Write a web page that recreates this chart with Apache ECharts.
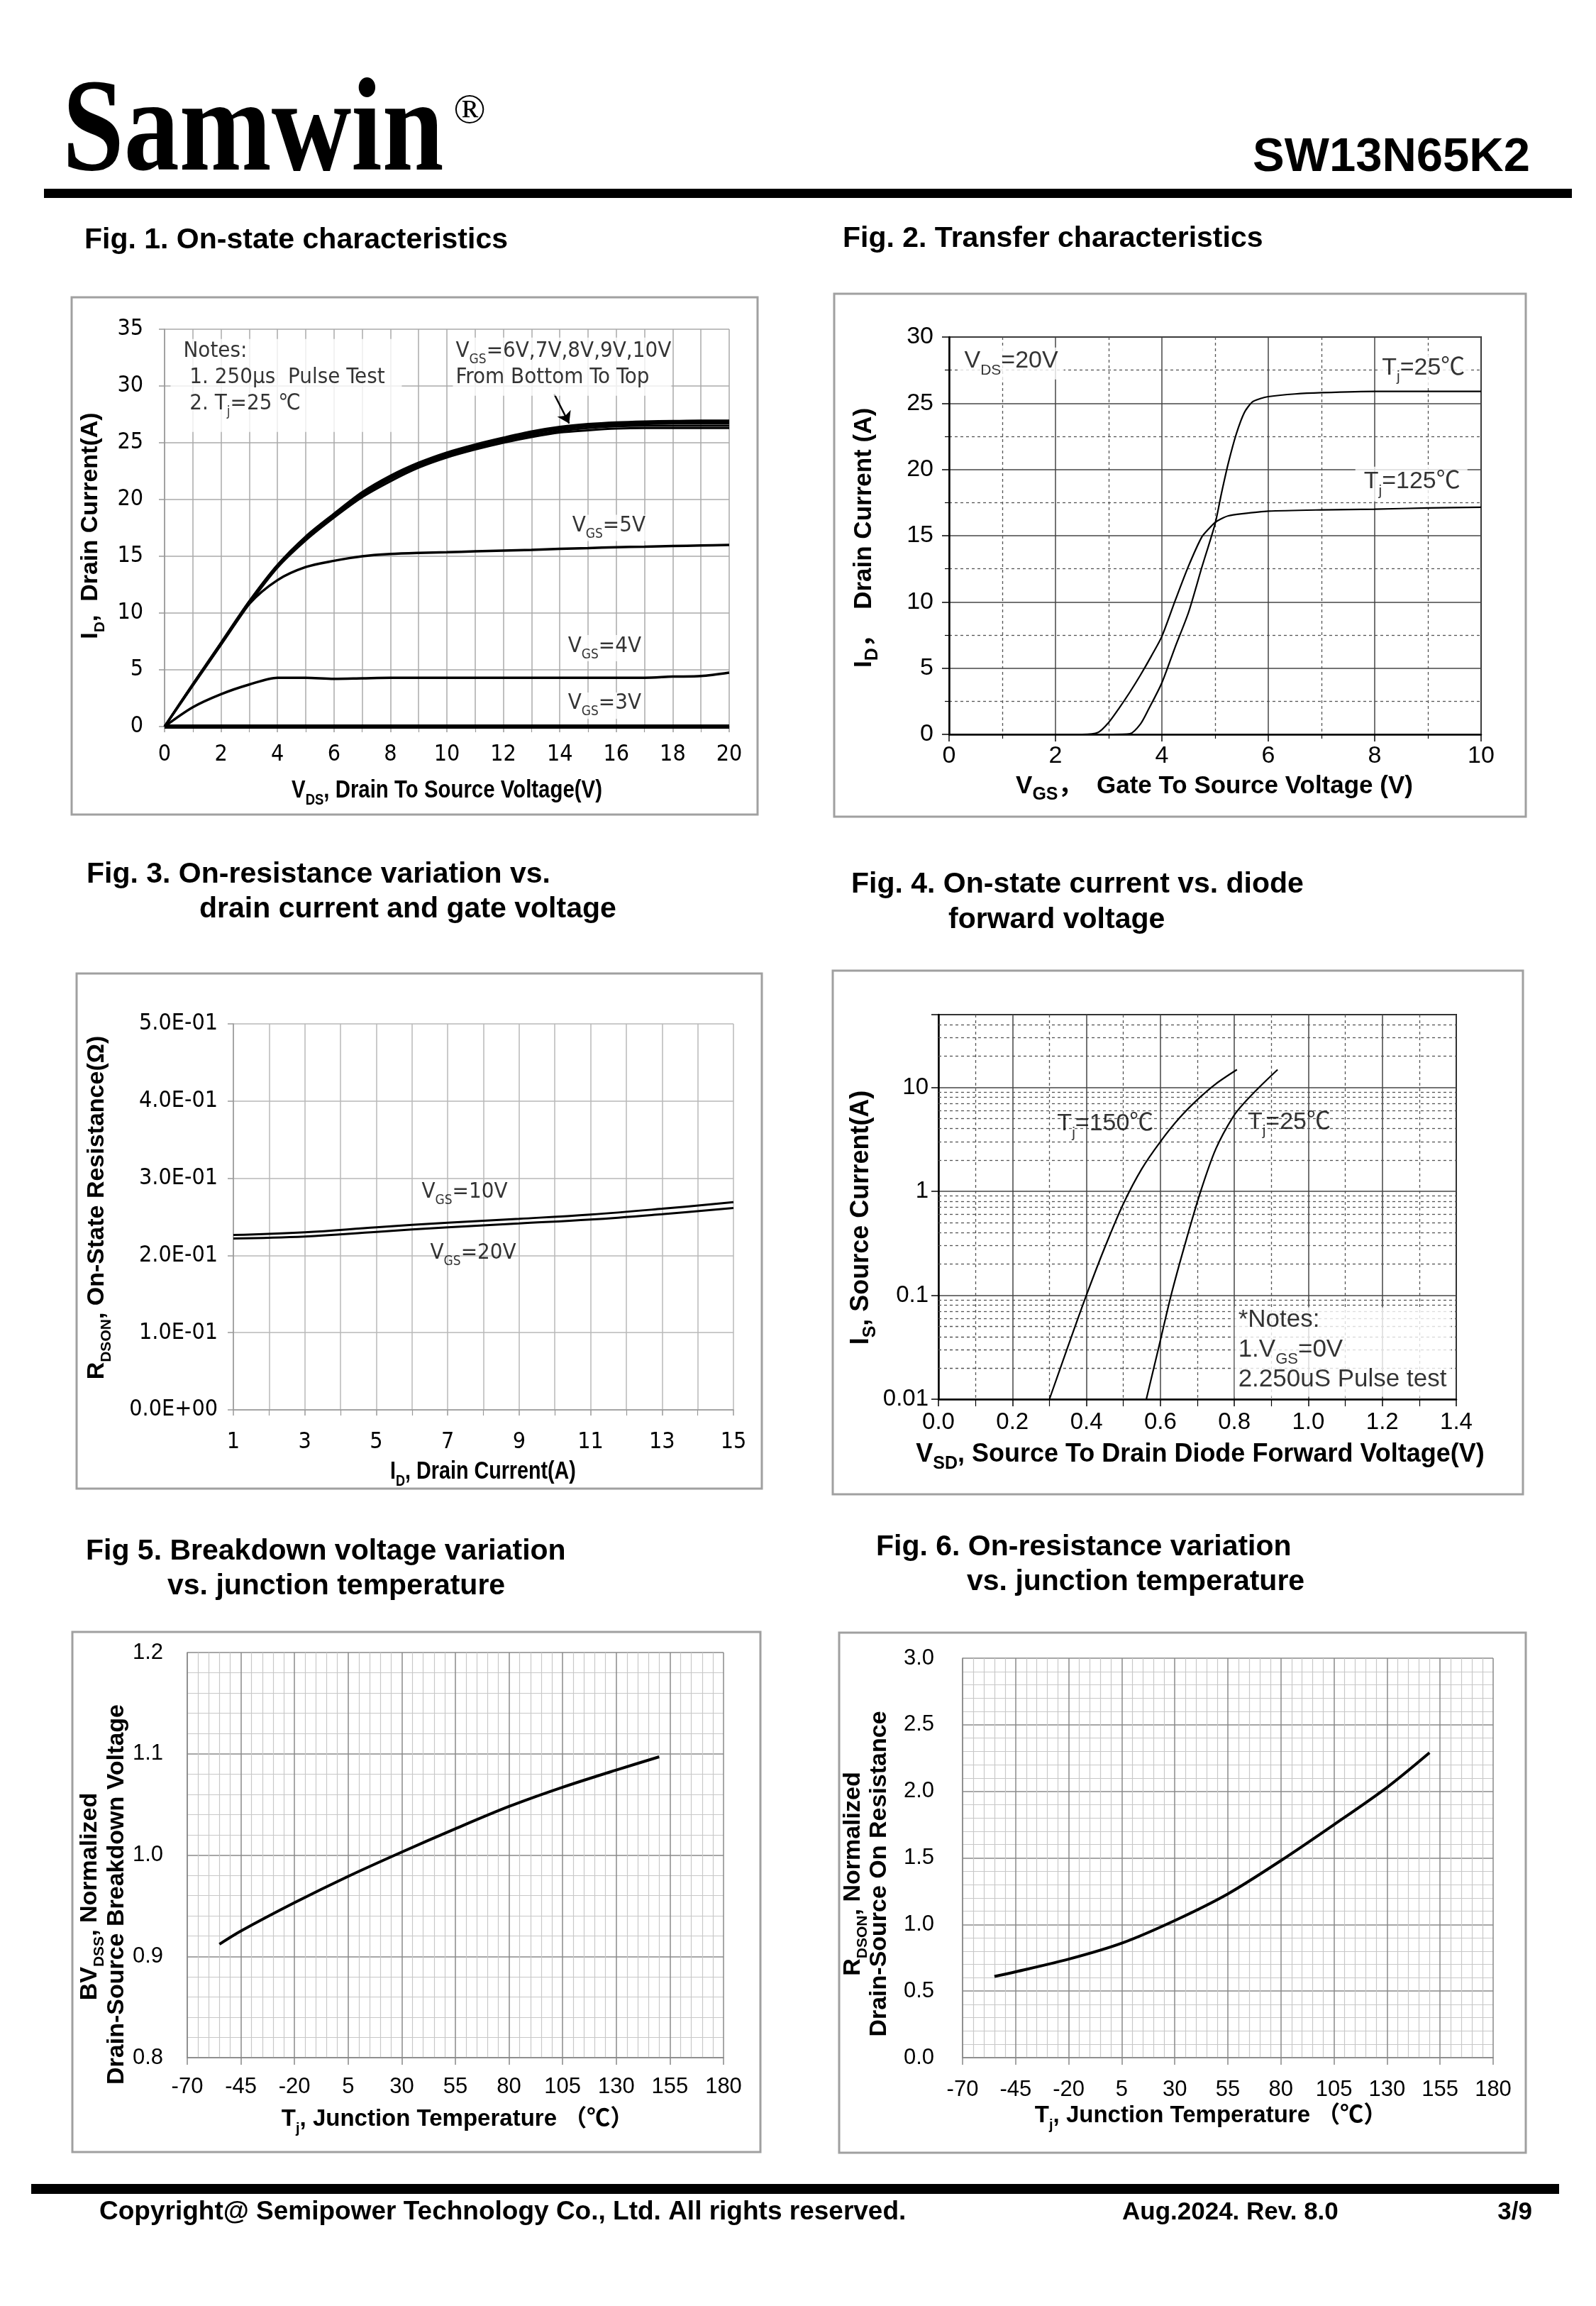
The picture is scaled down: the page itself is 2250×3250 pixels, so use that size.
<!DOCTYPE html>
<html><head><meta charset="utf-8">
<script src="https://cdn.jsdelivr.net/npm/echarts@6.0.0/dist/echarts.min.js"></script>
<style>html,body{margin:0;padding:0;background:#fff}#c{width:2250px;height:3250px}</style>
</head><body><div id="c"></div>
<script>
// ---------------- DATA ----------------
// Fig.1 On-state characteristics (VDS in V, ID in A)
const fig1Vds = [0,1,2,3,4,5,6,7,8,9,10,11,12,13,14,15,16,17,18,19,20];
const fig1Vgs3 = [0,0,0,0,0,0,0,0,0,0,0,0,0,0,0,0,0,0,0,0,0];
const fig1Vgs4 = [0,1.7,2.85,3.7,4.3,4.3,4.2,4.25,4.3,4.3,4.3,4.3,4.3,4.3,4.3,4.3,4.3,4.3,4.4,4.45,4.75];
const fig1Vgs5 = [0,3.7,7.3,10.8,12.9,14.05,14.6,15.0,15.2,15.3,15.36,15.43,15.5,15.57,15.65,15.72,15.8,15.85,15.9,15.95,16.0];
const fig1Vgs6 = [0,3.6,7.2,10.8,14.0,16.4,18.4,20.2,21.6,22.8,23.7,24.4,25.0,25.5,25.9,26.1,26.25,26.3,26.3,26.3,26.3];
const fig1Vgs7 = [0,3.65,7.25,10.9,14.1,16.5,18.5,20.35,21.8,22.95,23.85,24.55,25.15,25.65,26.05,26.3,26.45,26.5,26.5,26.5,26.5];
const fig1Vgs8 = [0,3.7,7.3,10.95,14.15,16.6,18.6,20.45,21.9,23.05,23.95,24.65,25.25,25.8,26.2,26.45,26.6,26.65,26.7,26.7,26.7];
const fig1Vgs9 = [0,3.72,7.35,11.0,14.2,16.7,18.7,20.55,22.0,23.15,24.05,24.75,25.35,25.9,26.3,26.55,26.7,26.78,26.82,26.85,26.85];
const fig1Vgs10 = [0,3.75,7.4,11.05,14.25,16.75,18.75,20.65,22.1,23.25,24.15,24.85,25.45,26.0,26.4,26.65,26.8,26.88,26.92,26.95,26.95];

// Fig.2 Transfer characteristics (VGS in V, ID in A)
const fig2Tj25Vgs = [0,3.0,3.4,3.6,3.75,4.0,4.25,4.5,4.75,5.0,5.12,5.25,5.4,5.55,5.7,5.85,6.0,6.5,7,8,9,10];
const fig2Tj25Id  = [0,0,0.05,0.8,1.9,3.9,6.6,9.2,12.6,15.9,18.2,20.5,22.7,24.3,25.1,25.35,25.5,25.7,25.8,25.9,25.9,25.9];
const fig2Tj125Vgs = [0,2.5,2.8,3.0,3.2,3.4,3.6,3.8,4.0,4.25,4.5,4.75,4.9,5.0,5.1,5.25,5.5,6,7,8,9,10];
const fig2Tj125Id  = [0,0,0.15,0.9,2.0,3.2,4.5,5.9,7.4,10.1,12.7,14.9,15.6,16.0,16.25,16.5,16.65,16.85,16.95,17.0,17.1,17.15];

// Fig.3 On-resistance vs drain current (ID in A, RDSON in ohm)
const fig3Id = [1,3,5,7,9,11,13,15];
const fig3Vgs10 = [0.2265,0.230,0.2365,0.2425,0.2475,0.253,0.2605,0.269];
const fig3Vgs20 = [0.222,0.2245,0.2305,0.2365,0.2415,0.2465,0.2535,0.2615];

// Fig.4 Diode forward characteristics (VSD in V, IS in A)
const fig4Tj150Vsd = [0.300,0.350,0.400,0.450,0.500,0.550,0.600,0.650,0.700,0.750,0.807];
const fig4Tj150Is  = [0.010,0.032,0.100,0.29,0.76,1.65,3.0,5.0,7.6,10.8,14.8];
const fig4Tj25Vsd = [0.562,0.596,0.629,0.667,0.709,0.750,0.798,0.830,0.867,0.917];
const fig4Tj25Is  = [0.010,0.032,0.100,0.313,1.00,2.56,5.3,7.3,10.0,14.8];

// Fig.5 Breakdown voltage vs Tj
const fig5Tj = [-55,-45,-20,5,30,55,80,105,130,150];
const fig5Bv = [0.912,0.925,0.953,0.979,1.003,1.026,1.048,1.067,1.084,1.097];

// Fig.6 On-resistance vs Tj
const fig6Tj = [-55,-45,-20,5,30,55,80,105,130,150];
const fig6Rds = [0.61,0.645,0.74,0.86,1.03,1.23,1.48,1.75,2.03,2.29];

// ---------------- STYLE HELPERS ----------------
const SANS = '"Liberation Sans", Arial, "Noto Sans CJK SC", sans-serif';
const NARROW = '"Liberation Sans Narrow", "Arial Narrow", "DejaVu Sans Condensed", "Noto Sans CJK SC", sans-serif';
const SERIF = '"Liberation Serif", "Times New Roman", serif';

function mkRich(S, fam, wt, scale) {
  scale = scale || 0.62;
  const L = Math.round(S * 1.2);
  const m = Math.round(S * scale);
  const d = 0.17 * S;
  return {
    n: {fontSize: S, fontFamily: fam, fontWeight: wt, color: '#000', lineHeight: L, verticalAlign: 'top'},
    s: {fontSize: m, fontFamily: fam, fontWeight: wt, color: '#000', lineHeight: Math.max(2, L - 0.7 * (S - m) - 2 * d), verticalAlign: 'bottom'},
    m: {fontSize: m, fontFamily: fam, fontWeight: wt, color: '#000', lineHeight: L - 0.7 * (S - m), verticalAlign: 'bottom'}
  };
}
const zip = (xs, ys) => xs.map((x, i) => [x, ys[i]]);

function txt(x, y, text, size, fam, wt, opts) {
  opts = opts || {};
  return {
    type: 'text', x: x, y: y, rotation: opts.rot || 0, scaleX: opts.sx || 1, scaleY: opts.sy || 1, silent: true, z: 50,
    style: {
      text: text, fill: '#000', align: opts.align || 'left', verticalAlign: 'middle',
      font: (wt || 'normal') + ' ' + size + 'px ' + fam
    }
  };
}
function rtxt(x, y, text, size, fam, wt, opts) {
  opts = opts || {};
  return {
    type: 'text', x: x, y: y, rotation: opts.rot || 0, scaleX: opts.sx || 1, scaleY: 1, silent: true, z: 50,
    style: {text: text, fill: '#000', align: opts.align || 'center', verticalAlign: 'middle',
      rich: mkRich(size, fam, wt, opts.scale)}
  };
}
function box(x, y, w, h) {
  return {type: 'rect', silent: true, z: 1, shape: {x: x, y: y, width: w, height: h},
    style: {fill: 'none', stroke: '#a0a0a0', lineWidth: 3}};
}

function valAxis(o) {
  const a = {
    type: 'value', gridIndex: o.g, min: o.min, max: o.max, interval: o.interval,
    axisLine: {show: true, onZero: false, lineStyle: {color: o.axisColor || '#888', width: o.axisWidth || 1.5}},
    axisTick: {show: true, length: o.tickLen || 8, lineStyle: {color: o.axisColor || '#888', width: 1.5}},
    splitLine: {show: true, lineStyle: {color: o.gridColor || '#aaa', width: o.gridWidth || 1.5, type: o.gridType || 'solid'}},
    axisLabel: {show: true, color: '#000', fontSize: o.fontSize, fontFamily: o.font || SANS, margin: o.margin || 12,
      formatter: o.fmt, showMinLabel: true, showMaxLabel: true, hideOverlap: false},
    splitArea: {show: false}
  };
  if (o.minor) {
    a.minorTick = {show: true, splitNumber: o.minor, length: o.minorTickLen || (o.tickLen || 8), lineStyle: {color: o.axisColor || '#888', width: 1.2}};
    a.minorSplitLine = {show: true, lineStyle: {color: o.minorColor || o.gridColor || '#aaa', width: o.minorWidth || o.gridWidth || 1.5, type: o.minorType || 'solid'}};
  }
  return a;
}
function curve(xi, yi, data, width, smooth) {
  return {type: 'line', xAxisIndex: xi, yAxisIndex: yi, data: data, showSymbol: false, symbol: 'none',
    smooth: smooth === undefined ? 0.3 : smooth,
    lineStyle: {color: '#000', width: width}, z: 3, silent: true, animation: false};
}
function annot(xi, yi, items) {
  return {type: 'scatter', xAxisIndex: xi, yAxisIndex: yi, symbol: 'circle', symbolSize: 1, z: 10, silent: true,
    itemStyle: {color: 'rgba(0,0,0,0)'},
    data: items.map(it => ({value: it.at, label: {show: true, position: 'right', distance: 0,
      formatter: it.text, rich: it.rich, backgroundColor: it.bg || 'transparent', padding: it.pad || 0,
      width: it.w, height: it.h, align: 'left', verticalAlign: 'middle'}}))};
}

// ---------------- GRIDS ----------------
const grids = [
  {left: 232, top: 464, width: 796, height: 560},   // Fig1
  {left: 1338, top: 475, width: 750, height: 560},  // Fig2
  {left: 329, top: 1443, width: 705, height: 544},  // Fig3
  {left: 1323, top: 1430, width: 730, height: 542, show: true, borderColor: '#000', borderWidth: 2}, // Fig4
  {left: 264, top: 2329, width: 756, height: 571},  // Fig5
  {left: 1357, top: 2337, width: 748, height: 563}  // Fig6
].map(g => Object.assign({containLabel: false, outerBoundsMode: 'none', backgroundColor: 'transparent'}, g,
   g.show ? {} : {show: true, borderWidth: 0}));
grids[1].borderColor = '#222'; grids[1].borderWidth = 2;

const xAxes = [
  valAxis({g: 0, min: 0, max: 20, interval: 2, minor: 2, fontSize: 32, font: NARROW, margin: 24, gridColor: '#aaa', axisColor: '#999'}),
  valAxis({g: 1, min: 0, max: 10, interval: 2, minor: 2, fontSize: 34, font: SANS, margin: 14, axisColor: '#000', axisWidth: 2.5,
    gridColor: '#444', gridWidth: 1.5, minorColor: '#555', minorWidth: 1.3, minorType: [4, 4], tickLen: 10, minorTickLen: 6}),
  valAxis({g: 2, min: 1, max: 15, interval: 2, minor: 2, fontSize: 32, font: NARROW, margin: 30, gridColor: '#b8b8b8', axisColor: '#999'}),
  valAxis({g: 3, min: 0, max: 1.4, interval: 0.2, minor: 2, fontSize: 33, font: SANS, margin: 16, axisColor: '#000', axisWidth: 2.5,
    gridColor: '#444', gridWidth: 1.5, minorColor: '#555', minorWidth: 1.3, minorType: [4, 4], tickLen: 10, minorTickLen: 10,
    fmt: v => v.toFixed(1)}),
  valAxis({g: 4, min: -70, max: 180, interval: 25, minor: 5, fontSize: 31, font: SANS, margin: 26, axisColor: '#888',
    gridColor: '#8a8a8a', gridWidth: 1.5, minorColor: '#c8c8c8', minorWidth: 1.2, tickLen: 10, minorTickLen: 0.01}),
  valAxis({g: 5, min: -70, max: 180, interval: 25, minor: 5, fontSize: 31, font: SANS, margin: 30, axisColor: '#888',
    gridColor: '#8a8a8a', gridWidth: 1.5, minorColor: '#c8c8c8', minorWidth: 1.2, tickLen: 10, minorTickLen: 0.01})
];
const yAxes = [
  valAxis({g: 0, min: 0, max: 35, interval: 5, fontSize: 32, font: NARROW, margin: 30, gridColor: '#aaa', axisColor: '#999'}),
  valAxis({g: 1, min: 0, max: 30, interval: 5, minor: 2, fontSize: 34, font: SANS, margin: 22, axisColor: '#000', axisWidth: 2.5,
    gridColor: '#444', gridWidth: 1.5, minorColor: '#555', minorWidth: 1.3, minorType: [4, 4], tickLen: 10, minorTickLen: 6}),
  valAxis({g: 2, min: 0, max: 0.5, interval: 0.1, fontSize: 32, font: NARROW, margin: 22, gridColor: '#b8b8b8', axisColor: '#999',
    fmt: v => Math.abs(v) < 1e-9 ? '0.0E+00' : (v * 10).toFixed(1) + 'E-01'}),
  {type: 'log', gridIndex: 3, logBase: 10, min: 0.01, max: 50,
    axisLine: {show: true, lineStyle: {color: '#000', width: 2.5}},
    axisTick: {show: true, length: 10, lineStyle: {color: '#000', width: 1.5}},
    splitLine: {show: true, lineStyle: {color: '#444', width: 1.5}},
    axisLabel: {show: true, color: '#000', fontSize: 33, fontFamily: SANS, margin: 14, showMaxLabel: true,
      formatter: v => { const l = Math.log10(v); if (Math.abs(l - Math.round(l)) > 1e-6 || v > 20) return '';
        return v >= 1 ? String(Math.round(v)) : v.toFixed(-Math.round(l)); }}},
  valAxis({g: 4, min: 0.8, max: 1.2, interval: 0.1, minor: 5, fontSize: 31, font: SANS, margin: 34, axisColor: '#888',
    gridColor: '#8a8a8a', gridWidth: 1.5, minorColor: '#c8c8c8', minorWidth: 1.2, tickLen: 0.01, fmt: v => v.toFixed(1)}),
  valAxis({g: 5, min: 0, max: 3, interval: 0.5, minor: 5, fontSize: 31, font: SANS, margin: 40, axisColor: '#888',
    gridColor: '#8a8a8a', gridWidth: 1.5, minorColor: '#c8c8c8', minorWidth: 1.2, tickLen: 0.01, fmt: v => v.toFixed(1)})
];

// Fig.4 log-axis minor gridlines (2..9 per decade)
const fig4MinorY = [];
[0.01, 0.1, 1, 10].forEach(dec => { for (let k = 2; k <= 9; k++) { const v = dec * k; if (v < 50) fig4MinorY.push(+v.toPrecision(3)); } });

const r31n = mkRich(31, NARROW, 'normal');
const r34s = mkRich(34, SANS, 'normal', 0.62);

const series = [
  curve(0, 0, zip(fig1Vds, fig1Vgs3), 6, false),
  curve(0, 0, zip(fig1Vds, fig1Vgs4), 3.5),
  curve(0, 0, zip(fig1Vds, fig1Vgs5), 3.5),
  curve(0, 0, zip(fig1Vds, fig1Vgs6), 3),
  curve(0, 0, zip(fig1Vds, fig1Vgs7), 3),
  curve(0, 0, zip(fig1Vds, fig1Vgs8), 3),
  curve(0, 0, zip(fig1Vds, fig1Vgs9), 3),
  curve(0, 0, zip(fig1Vds, fig1Vgs10), 3),
  {type: 'lines', coordinateSystem: 'cartesian2d', xAxisIndex: 0, yAxisIndex: 0, z: 4, silent: true,
   symbol: ['none', 'arrow'], symbolSize: 16, lineStyle: {color: '#000', width: 2.5, opacity: 1},
   data: [{coords: [[13.8, 29.3], [14.33, 26.7]]}]},
  annot(0, 0, [
    {at: [0.2, 30.05], text: '{n|Notes:}\n{n| 1. 250μs  Pulse Test}\n{n| 2. T}{s|j}{n|=25 ℃}', rich: mkRich(31, NARROW, 'normal'), bg: '#fff', w: 300, h: 126, pad: [2, 8, 3, 18]},
    {at: [10.2, 31.7], text: '{n|V}{s|GS}{n|=6V,7V,8V,9V,10V}\n{n|From Bottom To Top}', rich: r31n, bg: '#fff', w: 300, pad: [4, 4, 4, 4]},
    {at: [14.35, 17.5], text: '{n|V}{s|GS}{n|=5V}', rich: r31n, bg: '#fff', pad: [0, 3]},
    {at: [14.2, 6.9], text: '{n|V}{s|GS}{n|=4V}', rich: r31n, bg: '#fff', pad: [0, 3]},
    {at: [14.2, 1.85], text: '{n|V}{s|GS}{n|=3V}', rich: r31n, bg: '#fff', pad: [0, 3]}
  ]),
  // Fig 2
  curve(1, 1, zip(fig2Tj25Vgs, fig2Tj25Id), 2.2, 0.25),
  curve(1, 1, zip(fig2Tj125Vgs, fig2Tj125Id), 2.2, 0.25),
  annot(1, 1, [
    {at: [0.2, 28.0], text: '{n|V}{m|DS}{n|=20V}', rich: r34s, bg: '#fff', pad: [2, 8, 2, 6]},
    {at: [8.05, 27.5], text: '{n|T}{s|j}{n|=25℃}', rich: r34s, bg: '#fff', pad: [2, 6, 2, 6]},
    {at: [7.63, 18.9], text: '{n|T}{s|j}{n|=125℃}', rich: r34s, bg: '#fff', pad: [4, 10, 4, 12]}
  ]),
  // Fig 3
  curve(2, 2, zip(fig3Id, fig3Vgs10), 3, 0.4),
  curve(2, 2, zip(fig3Id, fig3Vgs20), 3, 0.4),
  annot(2, 2, [
    {at: [6.26, 0.279], text: '{n|V}{s|GS}{n|=10V}', rich: r31n},
    {at: [6.5, 0.2007], text: '{n|V}{s|GS}{n|=20V}', rich: r31n}
  ]),
  // Fig 4
  Object.assign(curve(3, 3, zip(fig4Tj150Vsd, fig4Tj150Is), 2.2, 0.3), {
    markLine: {silent: true, z: 1, symbol: ['none', 'none'], label: {show: false}, animation: false,
      lineStyle: {color: '#555', width: 1.3, type: [4, 4]},
      data: fig4MinorY.map(v => ({yAxis: v}))}}),
  curve(3, 3, zip(fig4Tj25Vsd, fig4Tj25Is), 2.2, 0.3),
  annot(3, 3, [
    {at: [0.32, 4.24], text: '{n|T}{s|j}{n|=150℃}', rich: r34s},
    {at: [0.835, 4.4], text: '{n|T}{s|j}{n|=25℃}', rich: r34s},
    {at: [0.8, 0.0284], text: '{n|*Notes:}\n{n|1.V}{m|GS}{n|=0V}\n{n|2.250uS Pulse test}', rich: mkRich(35, SANS, 'normal'), bg: '#fff', w: 292, pad: [0, 8, 0, 5]}
  ]),
  // Fig 5, 6
  curve(4, 4, zip(fig5Tj, fig5Bv), 4, 0.3),
  curve(5, 5, zip(fig6Tj, fig6Rds), 4, 0.3)
];

// ---------------- PAGE GRAPHICS ----------------
const graphics = [
  // header
  txt(88, 191, 'Samwin', 156, SERIF, 'bold', {sy: 1.2}),
  txt(662, 157, '®', 60, SERIF, 'normal', {align: 'center'}),
  txt(2157, 223, 'SW13N65K2', 67, SANS, 'bold', {align: 'right'}),
  {type: 'rect', silent: true, shape: {x: 62, y: 266, width: 2154, height: 13}, style: {fill: '#000'}},
  // titles
  txt(119, 339, 'Fig. 1. On-state characteristics', 41, SANS, 'bold'),
  txt(1188, 337, 'Fig. 2. Transfer characteristics', 41, SANS, 'bold'),
  txt(122, 1233, 'Fig. 3. On-resistance variation vs.', 41, SANS, 'bold'),
  txt(281, 1282, 'drain current and gate voltage', 41, SANS, 'bold'),
  txt(1200, 1247, 'Fig. 4. On-state current vs. diode', 41, SANS, 'bold'),
  txt(1337, 1297, 'forward voltage', 41, SANS, 'bold'),
  txt(121, 2187, 'Fig 5. Breakdown voltage variation', 41, SANS, 'bold'),
  txt(236, 2236, 'vs. junction temperature', 41, SANS, 'bold'),
  txt(1235, 2181, 'Fig. 6. On-resistance variation', 41, SANS, 'bold'),
  txt(1363, 2230, 'vs. junction temperature', 41, SANS, 'bold'),
  // boxes
  box(101, 419, 967, 729),
  box(1176, 414, 975, 737),
  box(108, 1372, 966, 726),
  box(1174, 1368, 973, 738),
  box(102, 2300, 970, 733),
  box(1183, 2301, 968, 733),
  // axis titles
  rtxt(131, 741, '{n|I}{s|D}{n|,  Drain Current(A)}', 34, SANS, 'bold', {rot: Math.PI / 2}),
  rtxt(630, 1118, '{n|V}{s|DS}{n|, Drain To Source Voltage(V)}', 35, SANS, 'bold', {sx: 0.84}),
  rtxt(1222, 758, '{n|I}{m|D}{n|，  Drain Current (A)}', 35, SANS, 'bold', {rot: Math.PI / 2, scale: 0.7}),
  rtxt(1712, 1112, '{n|V}{m|GS}{n|，  Gate To Source Voltage (V)}', 35, SANS, 'bold', {scale: 0.7}),
  rtxt(140, 1702, '{n|R}{s|DSON}{n|, On-State Resistance(Ω)}', 34, SANS, 'bold', {rot: Math.PI / 2}),
  rtxt(681, 2078, '{n|I}{s|D}{n|, Drain Current(A)}', 35, SANS, 'bold', {sx: 0.82}),
  rtxt(1218, 1716, '{n|I}{m|S}{n|, Source Current(A)}', 36, SANS, 'bold', {rot: Math.PI / 2, scale: 0.7}),
  rtxt(1692, 2054, '{n|V}{m|SD}{n|, Source To Drain Diode Forward Voltage(V)}', 36, SANS, 'bold', {scale: 0.7}),
  rtxt(130, 2673, '{n|BV}{s|DSS}{n|, Normalized}', 34, SANS, 'bold', {rot: Math.PI / 2}),
  rtxt(168, 2670, '{n|Drain-Source Breakdown Voltage}', 34, SANS, 'bold', {rot: Math.PI / 2}),
  rtxt(645, 2990, '{n|T}{s|j}{n|, Junction Temperature （℃）}', 33, SANS, 'bold'),
  rtxt(1206, 2641, '{n|R}{s|DSON}{n|, Normalized}', 34, SANS, 'bold', {rot: Math.PI / 2}),
  rtxt(1243, 2641, '{n|Drain-Source On Resistance}', 34, SANS, 'bold', {rot: Math.PI / 2}),
  rtxt(1707, 2985, '{n|T}{s|j}{n|, Junction Temperature （℃）}', 33, SANS, 'bold'),
  // footer
  {type: 'rect', silent: true, shape: {x: 44, y: 3078, width: 2154, height: 14}, style: {fill: '#000'}},
  txt(140, 3118, 'Copyright@ Semipower Technology Co., Ltd. All rights reserved.', 37, SANS, 'bold'),
  txt(1582, 3118, 'Aug.2024. Rev. 8.0', 35, SANS, 'bold'),
  txt(2160, 3118, '3/9', 35, SANS, 'bold', {align: 'right'})
];

const chart = echarts.init(document.getElementById('c'), null, {renderer: 'canvas', width: 2250, height: 3250});
chart.setOption({
  animation: false,
  backgroundColor: '#fff',
  grid: grids,
  xAxis: xAxes,
  yAxis: yAxes,
  series: series,
  graphic: graphics
});
</script></body></html>
